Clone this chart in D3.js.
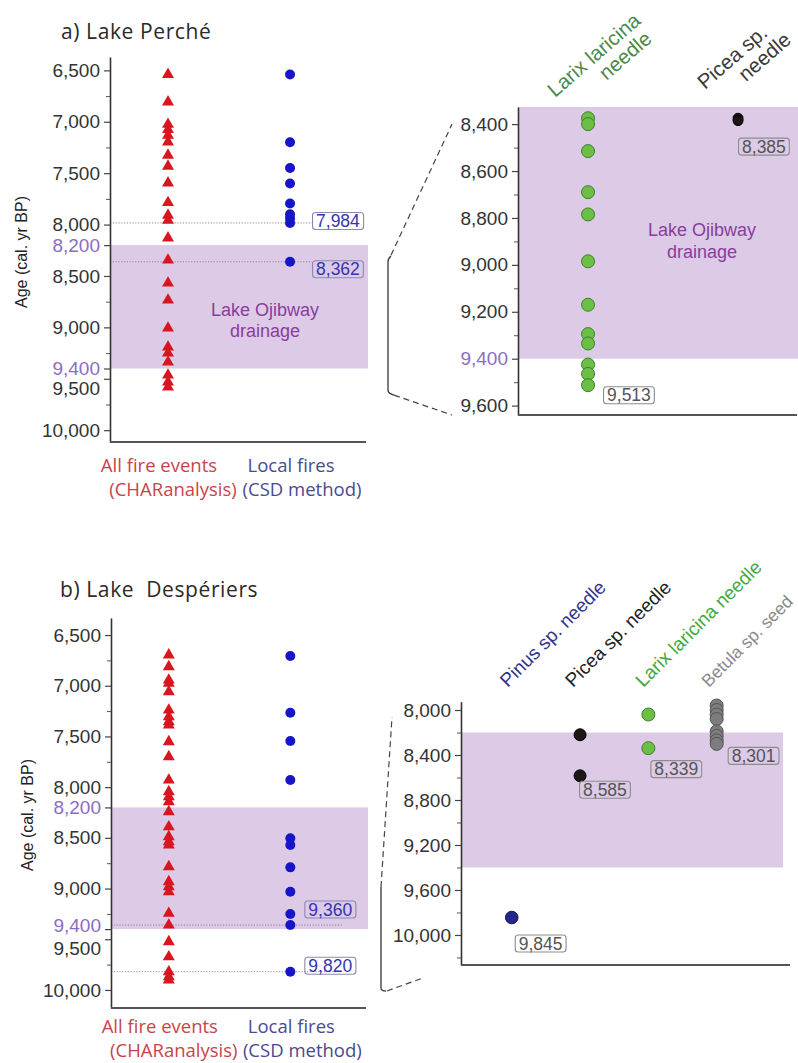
<!DOCTYPE html>
<html><head><meta charset="utf-8">
<script src="https://cdn.jsdelivr.net/npm/d3@7/dist/d3.min.js"></script>
<style>body{margin:0;background:#fff}svg{display:block}</style>
</head><body>
<svg id="c" width="798" height="1063"></svg>
<script>
// ---------------- data ----------------
const leftCategories = ["All fire events", "Local fires"];
const leftTicksMajor = [6500, 7000, 7500, 8000, 8200, 8500, 9000, 9400, 9500, 10000];
const leftTicksMinor = [6750, 7250, 7750, 8750, 9250, 9750];
const highlightTicks = [8200, 9400];
const drainagePeriod = [8200, 9400];

// a) Lake Perché
const percheAllFires = [6540, 6808, 7025, 7076, 7132, 7197, 7326, 7433, 7595, 7786, 7909, 7958, 8130,
  8346, 8570, 8735, 9007, 9192, 9250, 9338, 9464, 9532, 9581];
const percheLocal = [6540, 7200, 7450, 7600, 7795, 7900, 7940, 7984, 8362];
const percheLocalLabels = [7984, 8362];
const percheRightCats = ["Larix laricina needle", "Picea sp. needle"];
const percheLarix = [8375, 8400, 8515, 8690, 8785, 8985, 9170, 9295, 9335, 9425, 9465, 9513];
const perchePicea = [8375, 8385];
const percheRightTicksMajor = [8400, 8600, 8800, 9000, 9200, 9400, 9600];
const percheRightTicksMinor = [8500, 8700, 8900, 9100, 9300, 9500];
const percheRightLabels = [8385, 9513];

// b) Lake Despériers
const despAllFires = [6697, 6813, 6944, 6976, 7059, 7240, 7306, 7355, 7388, 7552, 7700, 7930, 8045, 8095, 8144,
  8243, 8391, 8489, 8538, 8571, 8785, 8933, 8982, 9032, 9245, 9360, 9525, 9673, 9821, 9870, 9902];
const despLocal = [6707, 7266, 7545, 7930, 8505, 8571, 8791, 9032, 9251, 9360, 9820];
const despLocalLabels = [9360, 9820];
const despRightCats = ["Pinus sp. needle", "Picea sp. needle", "Larix laricina needle", "Betula sp. seed"];
const despPinus = [9845];
const despPicea = [8220, 8585];
const despLarix = [8040, 8339];
const despBetula = [7960, 8000, 8040, 8080, 8190, 8230, 8270, 8301];
const despRightTicksMajor = [8000, 8400, 8800, 9200, 9600, 10000];
const despRightTicksMinor = [8200, 8600, 9000, 9400, 9800, 10200];
const despRightLabels = [["Picea sp. needle", 8585], ["Larix laricina needle", 8339], ["Betula sp. seed", 8301], ["Pinus sp. needle", 9845]];

// ---------------- drawing ----------------
const svg = d3.select("#c");
const SANS = "'Liberation Sans', Arial, Helvetica, sans-serif";
const TSANS = "'Open Sans', 'Noto Sans', sans-serif";
const BAND = "#dccae7";
const PURPLE_TICK = "#8c6cc4";
const fmt = d3.format(",");

function drawYAxis(g, y, x0, major, minor, highlight, shift) {
  const ax = g.append("g").attr("transform", `translate(${x0},0)`)
    .call(d3.axisLeft(y).tickValues(major).tickSize(6).tickSizeOuter(0).tickPadding(4).tickFormat(fmt));
  ax.select(".domain").attr("stroke", "#333").attr("stroke-width", 1.6);
  ax.selectAll(".tick line").attr("stroke", "#444").attr("stroke-width", 1.2);
  ax.selectAll(".tick text").attr("font-family", SANS).attr("font-size", 19)
    .attr("fill", d => highlight.includes(d) ? PURPLE_TICK : "#333")
    .attr("dy", d => (shift && shift[d]) ? shift[d] : "0.32em");
  const mn = g.append("g").attr("transform", `translate(${x0},0)`)
    .call(d3.axisLeft(y).tickValues(minor).tickSize(4).tickSizeOuter(0).tickFormat(""));
  mn.select(".domain").remove();
  mn.selectAll(".tick line").attr("stroke", "#555").attr("stroke-width", 1);
}

function boxLabel(g, x, yc, text, color, stroke) {
  const lg = g.append("g");
  const t = lg.append("text").attr("x", x).attr("y", yc).attr("dy", "0.35em")
    .attr("font-family", SANS).attr("font-size", 17.5).attr("fill", color).text(text);
  const bb = t.node().getBBox();
  lg.insert("rect", () => t.node()).attr("x", bb.x - 3.5).attr("y", yc - 8.5)
    .attr("width", bb.width + 7).attr("height", 17).attr("rx", 3)
    .attr("fill", "none").attr("stroke", stroke).attr("stroke-width", 1.1);
}

function leftPanel(o) {
  const g = svg.append("g");
  const y = d3.scaleLinear().domain(o.domain).range([o.top, o.bottom]);
  const x = d3.scalePoint().domain(leftCategories).range([o.x0, o.x1]).padding(0.549).align(0.433);
  // band
  g.append("rect").attr("x", o.x0).attr("width", o.x1 - o.x0 + 2)
    .attr("y", y(drainagePeriod[0])).attr("height", y(drainagePeriod[1]) - y(drainagePeriod[0]))
    .attr("fill", BAND);
  if (o.bandText) {
    g.append("text").attr("y", y(drainagePeriod[0]) + o.bandTextDy)
      .attr("font-family", SANS).attr("font-size", 18).attr("fill", "#8a3d9c").attr("text-anchor", "middle")
      .selectAll("tspan").data(["Lake Ojibway", "drainage"]).join("tspan")
      .attr("x", o.bandTextX).attr("dy", (d, i) => i ? 21 : 0).text(d => d);
  }
  // dotted reference lines
  g.selectAll("line.ref").data(o.labels).join("line").attr("class", "ref")
    .attr("x1", o.x0).attr("x2", o.dotEnd).attr("y1", d => y(d)).attr("y2", d => y(d))
    .attr("stroke", "#8a8a8a").attr("stroke-width", 1).attr("stroke-dasharray", "1.2,1.6");
  // triangles
  g.selectAll("path.tri").data(o.fires).join("path").attr("class", "tri")
    .attr("d", d3.symbol(d3.symbolTriangle, 62))
    .attr("transform", d => `translate(${x(leftCategories[0])},${y(d)})`)
    .attr("fill", "#d7161f");
  // dots
  g.selectAll("circle.loc").data(o.local).join("circle").attr("class", "loc")
    .attr("cx", x(leftCategories[1])).attr("cy", d => y(d)).attr("r", 5).attr("fill", "#1616c8");
  // labels
  o.labels.forEach((v, i) => boxLabel(g, x(leftCategories[1]) + o.labDx, y(v) + o.labDy[i], fmt(v), "#3434b0", "#8a8ab0"));
  // axes
  drawYAxis(g, y, o.x0, leftTicksMajor, leftTicksMinor, highlightTicks, o.shift);
  g.append("line").attr("x1", o.x0).attr("x2", o.x1).attr("y1", o.bottom).attr("y2", o.bottom)
    .attr("stroke", "#555").attr("stroke-width", 2);
  // y title
  g.append("text").attr("transform", `translate(${o.yTitleX},${o.yTitleY}) rotate(-90)`)
    .attr("text-anchor", "middle").attr("font-family", SANS).attr("font-size", 16).attr("fill", "#222")
    .text("Age (cal. yr BP)");
  // title
  g.append("text").attr("x", o.titleX).attr("y", o.titleY).attr("font-family", TSANS).attr("font-size", 21)
    .attr("letter-spacing", 0.6).attr("fill", "#2a2a2a")
    .style("white-space", "pre").text(o.title);
  // category labels
  const cats = [
    {lines: ["All fire events", "(CHARanalysis)"], color: "#c8434a", cx: [x(leftCategories[0]) - 9, x(leftCategories[0]) + 5]},
    {lines: ["Local fires", "(CSD method)"], color: "#4a4a8e", cx: [x(leftCategories[1]) + 1, x(leftCategories[1]) + 12]}
  ];
  cats.forEach(c => {
    c.lines.forEach((l, i) => g.append("text").attr("x", c.cx[i]).attr("y", o.catY + i * 24)
      .attr("text-anchor", "middle").attr("font-family", TSANS).attr("font-size", 18.5)
      .attr("fill", c.color).text(l));
  });
  return y;
}

function rightPanel(o) {
  const g = svg.append("g");
  const y = d3.scaleLinear().domain(o.domain).range([o.top, o.bottom]);
  const x = d3.scalePoint().domain(o.cats.map(c => c.name)).range([o.x0, o.x1]).padding(o.pad).align(o.align);
  const b0 = Math.max(drainagePeriod[0], o.domain[0]);
  g.append("rect").attr("x", o.x0).attr("width", o.bandRight - o.x0)
    .attr("y", y(b0)).attr("height", y(drainagePeriod[1]) - y(b0)).attr("fill", BAND);
  if (o.bandText) {
    g.append("text").attr("font-family", SANS).attr("font-size", 18).attr("fill", "#8a3d9c").attr("text-anchor", "middle")
      .attr("y", o.bandText[1])
      .selectAll("tspan").data(["Lake Ojibway", "drainage"]).join("tspan")
      .attr("x", o.bandText[0]).attr("dy", (d, i) => i ? 22 : 0).text(d => d);
  }
  drawYAxis(g, y, o.x0, o.major, o.minor, o.highlight, null);
  g.append("line").attr("x1", o.x0).attr("x2", o.x1).attr("y1", o.bottom).attr("y2", o.bottom)
    .attr("stroke", "#555").attr("stroke-width", 2);
  // points
  o.cats.forEach(c => {
    g.append("g").selectAll("circle").data(c.values).join("circle")
      .attr("cx", x(c.name)).attr("cy", d => y(d)).attr("r", c.r)
      .attr("fill", c.fill).attr("stroke", c.stroke).attr("stroke-width", 1);
  });
  // value labels
  o.labels.forEach(l => boxLabel(g, x(l.cat) + l.dx, y(l.v) + l.dy, fmt(l.v), "#555", "#8d8d8d"));
  // rotated category labels
  o.cats.forEach(c => {
    const t = g.append("g").attr("transform", `translate(${x(c.name) + c.lx},${c.ly}) rotate(${o.angle})`);
    c.lines.forEach((line, i) => {
      t.append("text").attr("x", i ? c.l2u : 0).attr("y", i ? o.lineGap : 0)
        .attr("font-family", SANS).attr("font-size", c.size || o.labelSize).attr("fill", c.color).text(line);
    });
  });
  return y;
}

// ---- panel a ----
const yA = leftPanel({
  title: "a) Lake Perché", titleX: 61, titleY: 39,
  top: 57, bottom: 442, x0: 110, x1: 366, domain: [6370, 10115],
  fires: percheAllFires, local: percheLocal, labels: percheLocalLabels,
  labDx: 26, labDy: [-2, 7.5], dotEnd: 312,
  bandText: true, bandTextX: 265, bandTextDy: 71, shift: {9500: "0.85em"},
  yTitleX: 27, yTitleY: 252, catY: 472
});
const yAR = rightPanel({
  top: 107, bottom: 415, x0: 518, x1: 797, bandRight: 798, domain: [8327, 9640],
  pad: 0.43, align: 0.543, major: percheRightTicksMajor, minor: percheRightTicksMinor, highlight: [9400],
  bandText: [702, 236], angle: -41, lineGap: 21, labelSize: 20.5,
  cats: [
    {name: percheRightCats[0], values: percheLarix, r: 6.5, fill: "#6cbf45", stroke: "#3d7f2d",
     lines: ["Larix laricina", "needle"], color: "#4b8a4b", lx: -33, ly: 98, l2u: 50},
    {name: percheRightCats[1], values: perchePicea, r: 5, fill: "#1c1616", stroke: "#000",
     lines: ["Picea sp.", "needle"], color: "#3a3a3a", lx: -33, ly: 90, l2u: 36}
  ],
  labels: [{cat: percheRightCats[1], v: percheRightLabels[0], dx: 4, dy: 26},
           {cat: percheRightCats[0], v: percheRightLabels[1], dx: 19, dy: 10}]
});
// connector a
(function () {
  const g = svg.append("g").attr("fill", "none").attr("stroke", "#444");
  const t = yA(8327), b = yA(9640);
  g.append("path").attr("d", `M391,${t - 2} Q388,${t} 388,${t + 4} L388,${b - 3} Q388,${b} 394,${b + 2}`).attr("stroke-width", 1.4);
  g.append("path").attr("d", `M391,${t - 3} L452,${yAR(8400)} M394,${b + 2} L452,${yAR(9640)}`)
    .attr("stroke-width", 1.2).attr("stroke-dasharray", "6,4");
})();

// ---- panel b ----
const yB = leftPanel({
  title: "b) Lake  Despériers", titleX: 60, titleY: 597,
  top: 618, bottom: 1008, x0: 111, x1: 366, domain: [6332, 10178],
  fires: despAllFires, local: despLocal, labels: despLocalLabels,
  labDx: 18, labDy: [-15.5, -6], dotEnd: 342,
  bandText: false, shift: {9400: "0.12em", 9500: "0.78em"},
  yTitleX: 33, yTitleY: 815, catY: 1033
});
const yBR = rightPanel({
  top: 701.7, bottom: 965, x0: 461, x1: 790, bandRight: 783, domain: [7926, 10267],
  pad: 0.908, align: 0.409, major: despRightTicksMajor, minor: despRightTicksMinor, highlight: [],
  bandText: null, angle: -45, lineGap: 0, labelSize: 19,
  cats: [
    {name: despRightCats[0], values: despPinus, r: 6.3, fill: "#27278a", stroke: "#15155a",
     lines: ["Pinus sp. needle"], color: "#33338a", lx: -4, ly: 688},
    {name: despRightCats[1], values: despPicea, r: 6, fill: "#1c1616", stroke: "#000",
     lines: ["Picea sp. needle"], color: "#222", lx: -7, ly: 688},
    {name: despRightCats[2], values: despLarix, r: 6.5, fill: "#6cbf45", stroke: "#3d7f2d",
     lines: ["Larix laricina needle"], color: "#45a83a", lx: -5, ly: 688},
    {name: despRightCats[3], values: despBetula, r: 6.5, fill: "#7d7d7d", stroke: "#555",
     lines: ["Betula sp. seed"], color: "#8a8a8a", lx: -8, ly: 688, size: 17.5}
  ],
  labels: [
    {cat: despRightLabels[0][0], v: despRightLabels[0][1], dx: 3, dy: 14},
    {cat: despRightLabels[1][0], v: despRightLabels[1][1], dx: 6, dy: 21},
    {cat: despRightLabels[2][0], v: despRightLabels[2][1], dx: 15, dy: 12},
    {cat: despRightLabels[3][0], v: despRightLabels[3][1], dx: 7, dy: 26}
  ]
});
// connector b
(function () {
  const g = svg.append("g").attr("fill", "none").attr("stroke", "#444");
  const t = yB(8985), b = yB(10000);
  g.append("path").attr("d", `M381,${t} L381,${b - 2} Q381,${b + 1} 386,${b + 1}`).attr("stroke-width", 1.4);
  g.append("path").attr("d", `M381,${t} L392,${yBR(8062)} M387,${b + 1} L423,${b - 12}`)
    .attr("stroke-width", 1.2).attr("stroke-dasharray", "6,4");
})();
</script>
</body></html>
